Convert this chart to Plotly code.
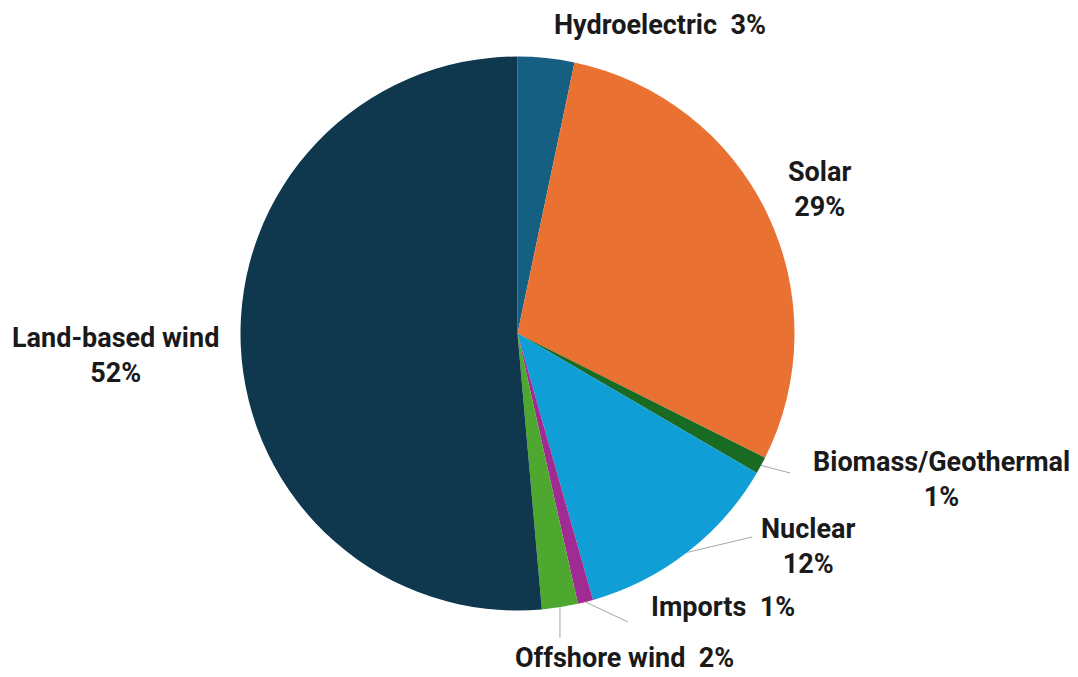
import math
import plotly.graph_objects as go

# ---- data ----
labels = ["Hydroelectric", "Solar", "Biomass/Geothermal", "Nuclear",
          "Imports", "Offshore wind", "Land-based wind"]
values = [3.3, 29.1, 1.0, 12.2, 0.9, 2.1, 51.4]
pct_text = ["3%", "29%", "1%", "12%", "1%", "2%", "52%"]
colors = ["#156082", "#e97132", "#196b24", "#0f9ed5",
          "#a02b93", "#4ea72e", "#0f374e"]

W, H = 1078, 677
CX, CY, R = 517.5, 333.5, 277.0

def px(x):
    return x / W

def py(y):
    return 1 - y / H

fig = go.Figure(go.Pie(
    labels=labels, values=values, sort=False, direction="clockwise",
    rotation=0, textinfo="none", hoverinfo="label+percent",
    marker=dict(colors=colors, line=dict(width=0)),
    domain=dict(x=[px(CX - R), px(CX + R)], y=[py(CY + R), py(CY - R)]),
    showlegend=False,
))

# label layout: (text, center x px, center y px, leader end px or None)
label_pos = {
    "Hydroelectric": ("Hydroelectric  " + pct_text[0], 660, 25, None),
    "Solar": ("Solar<br>" + pct_text[1], 819, 190, None),
    "Biomass/Geothermal": ("Biomass/Geothermal<br>" + pct_text[2], 941, 479, (790, 473)),
    "Nuclear": ("Nuclear<br>" + pct_text[3], 808, 546, (752, 537)),
    "Imports": ("Imports  " + pct_text[4], 723, 607, (628, 622)),
    "Offshore wind": ("Offshore wind  " + pct_text[5], 624, 658, (565, 638)),
    "Land-based wind": ("Land-based wind<br>" + pct_text[6], 115, 355, None),
}

total = sum(values)
cum = 0.0
for lab, v in zip(labels, values):
    mid = (cum + v / 2) / total
    cum += v
    text, lx, ly, end = label_pos[lab]
    fig.add_annotation(
        x=px(lx), y=py(ly), xref="paper", yref="paper", text=text,
        showarrow=False, align="center", xanchor="center", yanchor="middle",
        font=dict(family="Roboto", size=27, color="#1a1a1a", weight="bold"),
    )
    if end is not None:
        ang = mid * 2 * math.pi
        sx = CX + R * math.sin(ang)
        sy = CY - R * math.cos(ang)
        if lab == "Offshore wind":
            ex, ey = sx, end[1]
        else:
            ex, ey = end
        fig.add_shape(type="line", xref="paper", yref="paper",
                      x0=px(sx), y0=py(sy), x1=px(ex), y1=py(ey),
                      line=dict(color="#a6a6a6", width=1))

fig.update_layout(
    width=W, height=H, margin=dict(l=0, r=0, t=0, b=0),
    paper_bgcolor="white", plot_bgcolor="white",
)

fig.write_html("out.html")
